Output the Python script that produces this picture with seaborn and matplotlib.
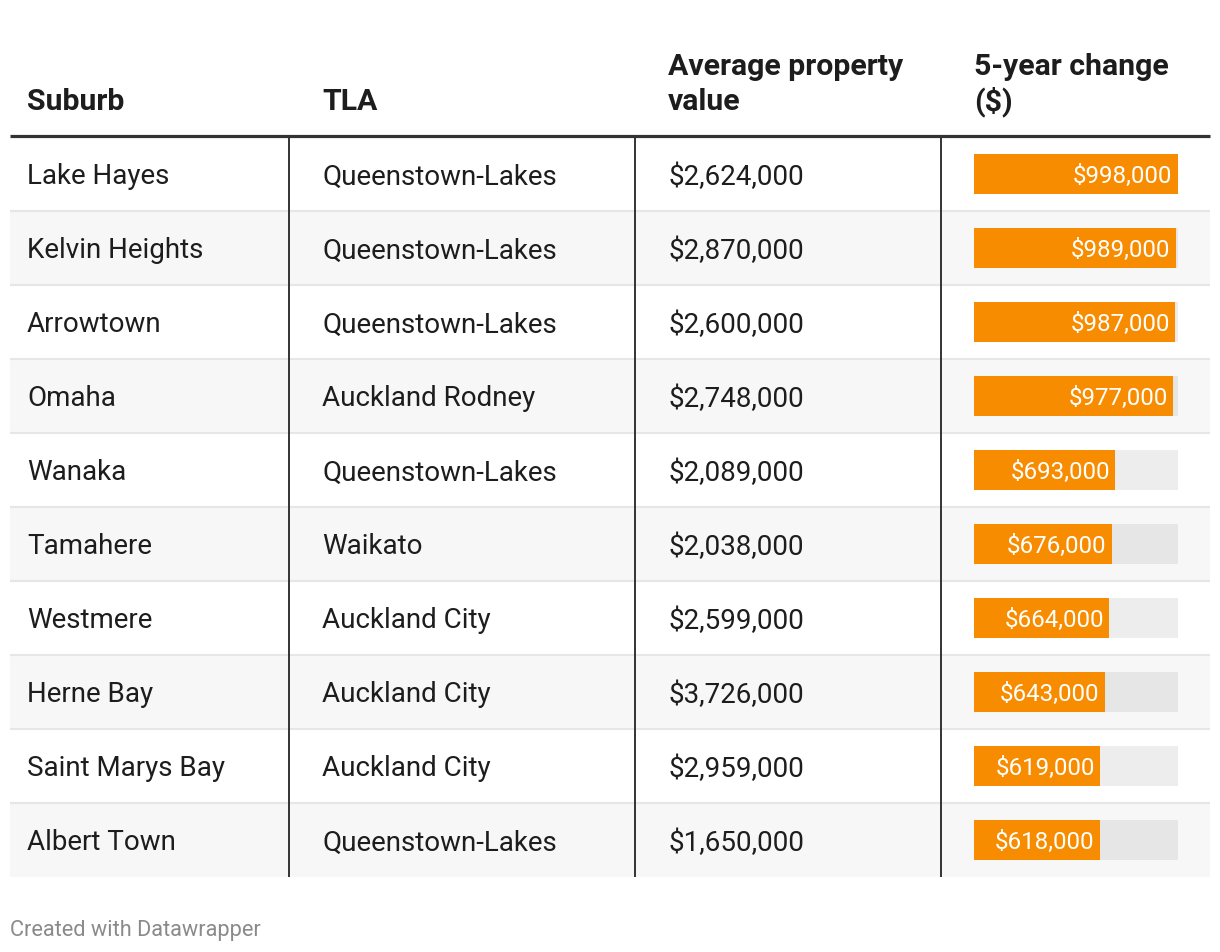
import numpy as np
import pandas as pd
import seaborn as sns
import matplotlib
matplotlib.use('Agg')
from matplotlib import pyplot as plt
from matplotlib.patches import Rectangle

# Table data
suburbs = ['Lake Hayes', 'Kelvin Heights', 'Arrowtown', 'Omaha', 'Wanaka', 'Tamahere',
           'Westmere', 'Herne Bay', 'Saint Marys Bay', 'Albert Town']
tlas = ['Queenstown-Lakes', 'Queenstown-Lakes', 'Queenstown-Lakes', 'Auckland Rodney',
        'Queenstown-Lakes', 'Waikato', 'Auckland City', 'Auckland City', 'Auckland City',
        'Queenstown-Lakes']
avg_value = [2624000, 2870000, 2600000, 2748000, 2089000, 2038000, 2599000, 3726000, 2959000, 1650000]
change_5y = [998000, 989000, 987000, 977000, 693000, 676000, 664000, 643000, 619000, 618000]
headers = ['Suburb', 'TLA', 'Average property\nvalue', '5-year change\n($)']
bar_max = 1000000
footer = 'Created with Datawrapper'

df = pd.DataFrame({'suburb': suburbs, 'tla': tlas, 'value': avg_value, 'change': change_5y})

sns.set_style('white')
plt.rcParams['font.family'] = ['Roboto', 'DejaVu Sans']

W, H = 1220, 952
fig = plt.figure(figsize=(W / 100, H / 100), dpi=100)
ax = fig.add_axes([0, 0, 1, 1])
ax.set_xlim(0, W)
ax.set_ylim(H, 0)
ax.axis('off')

text_col = '#1d1d1d'
orange = '#f88c00'
row_top = 137
row_h = 74
n = len(df)
left, right = 10, 1210
col_x = [27, 322, 668, 974]
div_x = [289, 635, 941]

# row backgrounds and separators
for i in range(n):
    y0 = row_top + i * row_h
    bg = '#f7f7f7' if i % 2 == 1 else '#ffffff'
    ax.add_patch(Rectangle((left, y0), right - left, row_h, facecolor=bg, edgecolor='none', zorder=0))
    if i > 0:
        ax.hlines(y0, left, right, color='#e6e6e6', lw=1.5, zorder=1)

ax.hlines(135.5, left, right, color='#333333', lw=2.3, zorder=2)
ax.vlines(div_x, row_top, row_top + n * row_h, color='#333333', lw=1.4, zorder=2)

# headers
for x, h in zip(col_x, headers):
    lines = h.split('\n')
    if len(lines) == 1:
        ax.text(x, 110, lines[0], fontsize=21.8, fontweight='bold', color=text_col, va='baseline')
    else:
        ax.text(x, 75, lines[0], fontsize=21.8, fontweight='bold', color=text_col, va='baseline')
        ax.text(x, 110, lines[1], fontsize=21.8, fontweight='bold', color=text_col, va='baseline')

# body text
for i, row in df.iterrows():
    yc = row_top + i * row_h + row_h / 2
    ax.text(col_x[0], yc, row['suburb'], fontsize=20, color=text_col, va='center_baseline')
    ax.text(col_x[1], yc, row['tla'], fontsize=20, color=text_col, va='center_baseline')
    ax.text(col_x[2], yc, '${:,}'.format(row['value']), fontsize=20, color=text_col, va='center_baseline')

ax.text(10, 928, footer, fontsize=15.7, color='#8a8a8a', va='center_baseline')

# bar column
bar_left, bar_w = 974, 204
bx = fig.add_axes([bar_left / W, 1 - (row_top + n * row_h) / H, bar_w / W, n * row_h / H])
bx.set_facecolor('none')
track_cols = ['#e6e6e6' if i % 2 == 1 else '#ededed' for i in range(n)]
bx.barh(np.arange(n), [bar_max] * n, height=0.54, color=track_cols, linewidth=0, zorder=0)
sns.barplot(data=df, x='change', y='suburb', orient='h', color=orange, saturation=1,
            width=0.54, linewidth=0, ax=bx, zorder=1)
for i, v in enumerate(change_5y):
    bx.annotate('${:,}'.format(v), (v, i), xytext=(-4, 0), textcoords='offset points',
                ha='right', va='center_baseline', fontsize=17.4, color='white')
bx.set_xlim(0, bar_max)
bx.set_ylim(n - 0.5, -0.5)
bx.axis('off')

plt.savefig('out.png', dpi=100)
plt.close(fig)
